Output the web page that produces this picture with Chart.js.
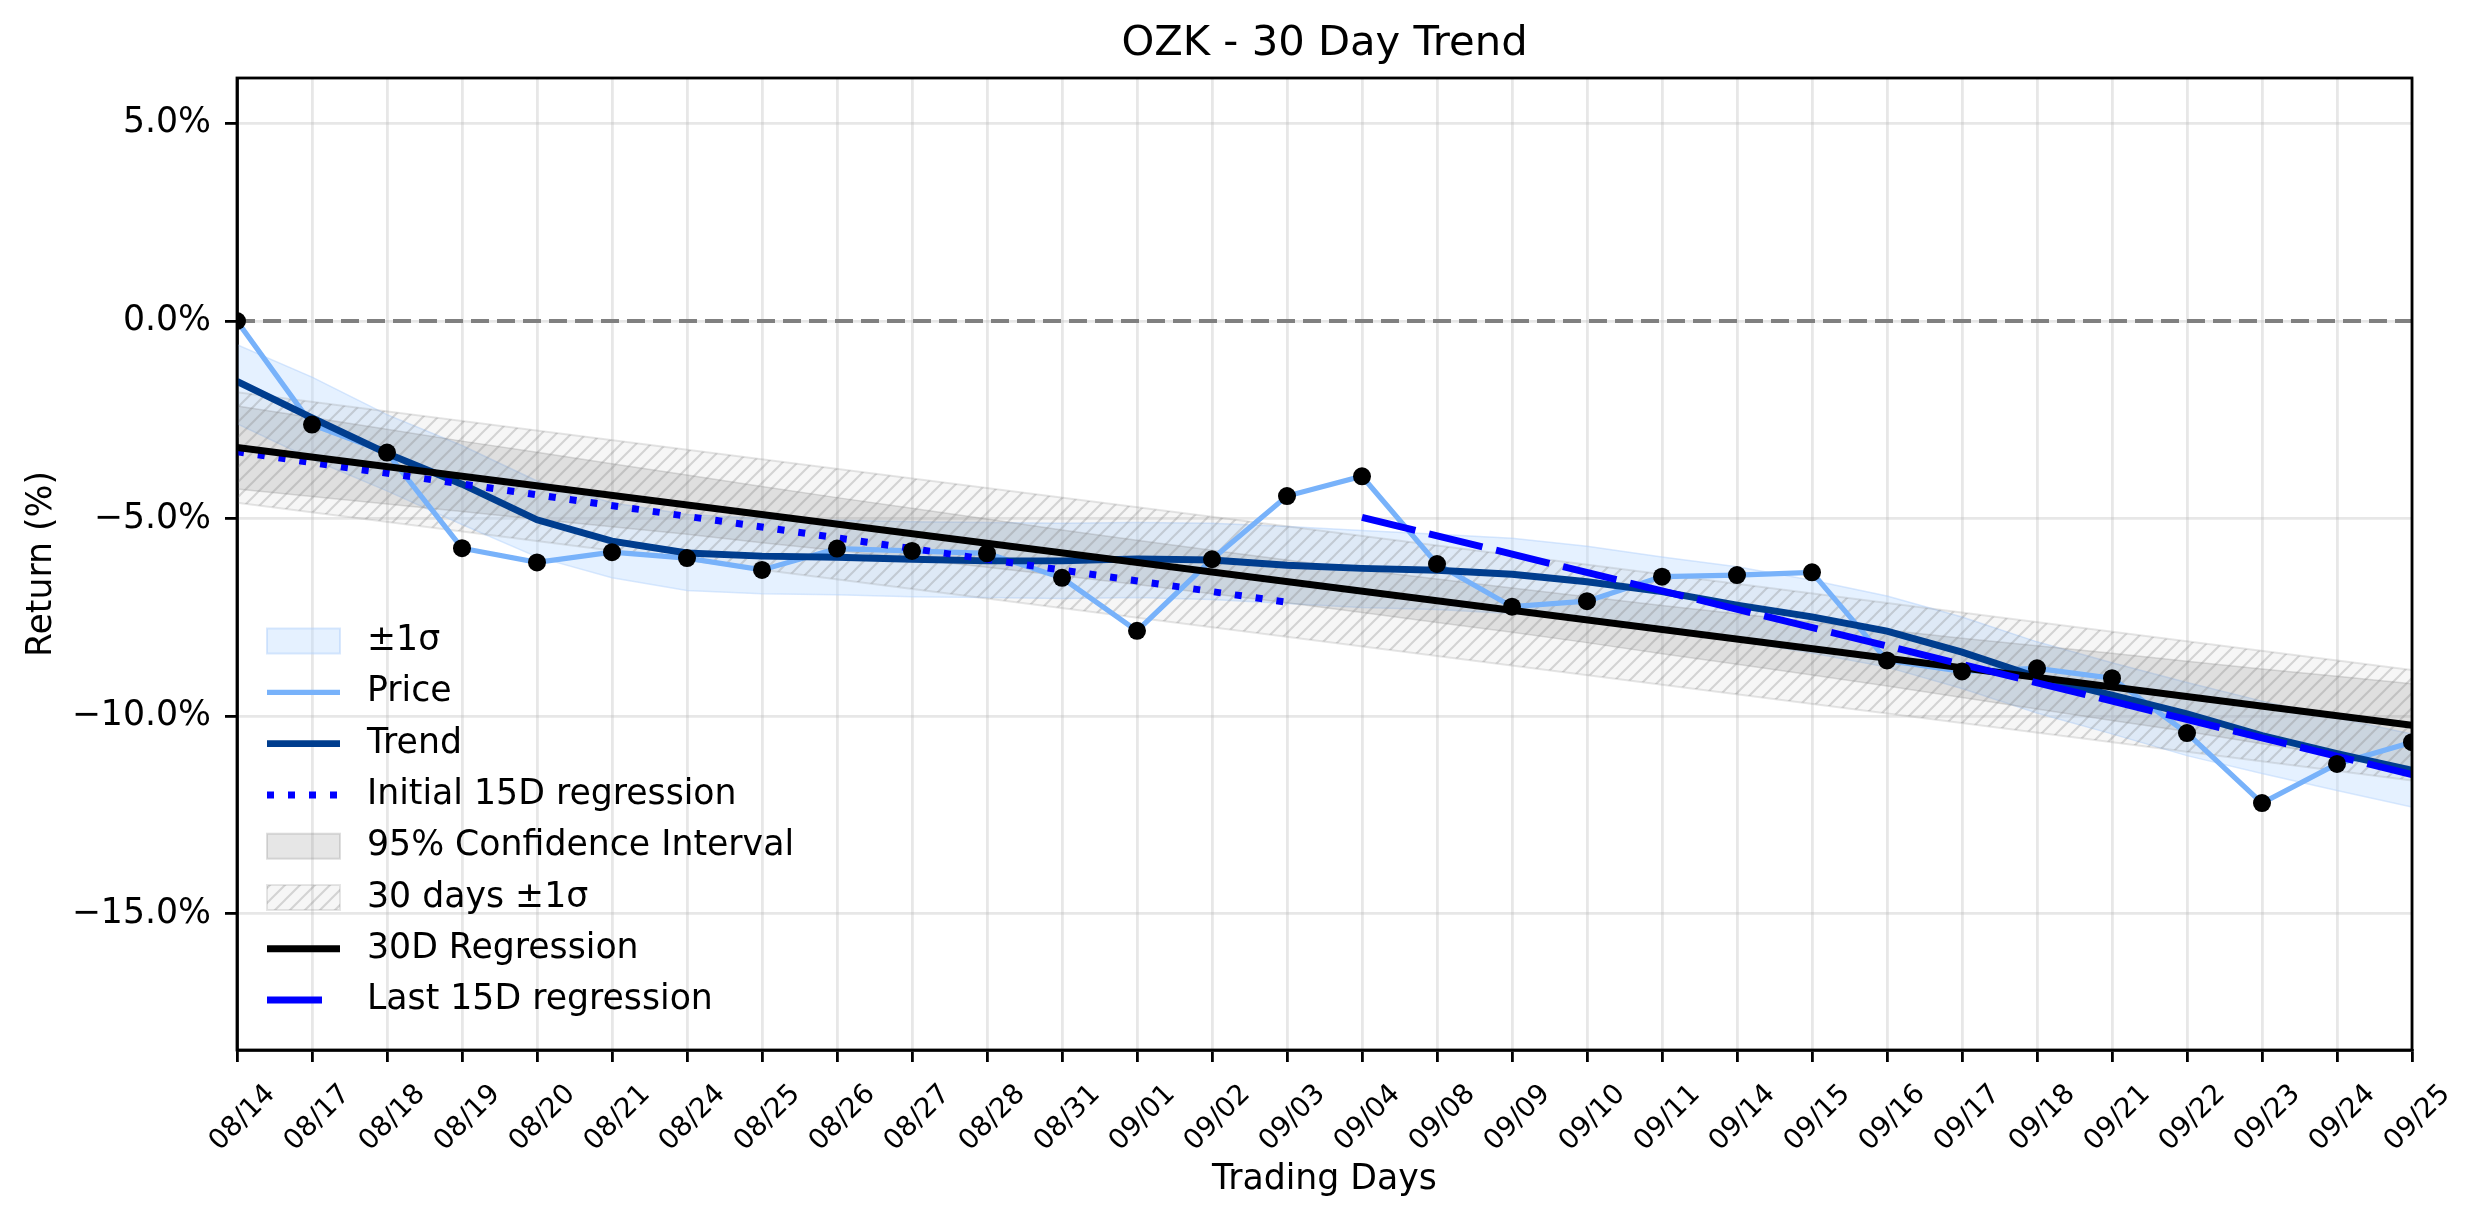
<!DOCTYPE html>
<html>
<head>
<meta charset="utf-8">
<title>OZK - 30 Day Trend</title>
<script src="https://cdn.jsdelivr.net/npm/chart.js@4.4.1/dist/chart.umd.min.js"></script>
<style>
  html, body { margin: 0; padding: 0; background: #fff; }
  #wrap { width: 2474px; height: 1224px; }
</style>
</head>
<body>
<div id="wrap"><canvas id="trendChart" width="2474" height="1224"></canvas></div>
<script>
// trading days on the x axis
const dates = ['08/14', '08/17', '08/18', '08/19', '08/20', '08/21', '08/24', '08/25', '08/26', '08/27',
               '08/28', '08/31', '09/01', '09/02', '09/03', '09/04', '09/08', '09/09', '09/10', '09/11',
               '09/14', '09/15', '09/16', '09/17', '09/18', '09/21', '09/22', '09/23', '09/24', '09/25'];

// return in % per day
const price = [0, -2.62, -3.33, -5.75, -6.11, -5.85, -6.0, -6.3, -5.76, -5.82,
               -5.88, -6.5, -7.84, -6.03, -4.43, -3.93, -6.15, -7.23, -7.09, -6.47,
               -6.43, -6.36, -8.59, -8.87, -8.79, -9.04, -10.43, -12.2, -11.21, -10.66];

const trend = [-1.53, -2.45, -3.35, -4.13, -5.03, -5.57, -5.87, -5.95, -5.98, -6.03,
               -6.07, -6.07, -6.02, -6.05, -6.18, -6.26, -6.31, -6.41, -6.6, -6.85,
               -7.19, -7.49, -7.85, -8.38, -9.01, -9.47, -9.94, -10.49, -10.95, -11.37];

// +-1 sigma band around the trend
const sigmaUpper = [-0.6, -1.42, -2.37, -3.15, -4.05, -4.6, -4.9, -5.0, -5.04, -5.08,
                    -5.1, -5.12, -5.1, -5.12, -5.2, -5.3, -5.4, -5.5, -5.7, -5.97,
                    -6.22, -6.56, -6.96, -7.49, -8.12, -8.65, -9.15, -9.62, -10.05, -10.45];
const sigmaLower = [-2.6, -3.5, -4.3, -5.15, -5.97, -6.5, -6.82, -6.9, -6.93, -6.98,
                    -7.0, -7.02, -7.0, -7.05, -7.15, -7.25, -7.3, -7.4, -7.55, -7.8,
                    -8.1, -8.4, -8.76, -9.3, -9.92, -10.45, -11.0, -11.45, -11.88, -12.3];

// 95% confidence interval of the 30 day regression
const ciUpper = [-2.15, -2.44, -2.74, -3.04, -3.32, -3.61, -3.9, -4.19, -4.47, -4.74,
                 -5.01, -5.29, -5.55, -5.8, -6.05, -6.3, -6.53, -6.76, -6.98, -7.2,
                 -7.41, -7.62, -7.82, -8.03, -8.22, -8.41, -8.61, -8.81, -8.99, -9.18];
const ciLower = [-4.25, -4.44, -4.63, -4.82, -5.02, -5.21, -5.4, -5.61, -5.81, -6.02,
                 -6.23, -6.45, -6.67, -6.9, -7.13, -7.38, -7.63, -7.88, -8.14, -8.42,
                 -8.69, -8.96, -9.24, -9.53, -9.82, -10.11, -10.39, -10.7, -10.99, -11.28];

// straight lines: day index at each end, value at each end
const reg30X = [0, 29];
const reg30 = [-3.2, -10.23];
const band30Upper = [-1.8, -8.83];
const band30Lower = [-4.6, -11.63];
const initX = [0, 14];
const initReg = [-3.31, -7.12];
const lastX = [15, 29];
const lastReg = [-4.97, -11.48];
const zeroLine = [0, 0];

const yTicks = [-15, -10, -5, 0, 5];
const yMin = -18.45;
const yMax = 6.15;

const chartTitle = 'OZK - 30 Day Trend';
const xTitle = 'Trading Days';
const yTitle = 'Return (%)';
const legendRows = ['±1σ', 'Price', 'Trend', 'Initial 15D regression', '95% Confidence Interval',
                    '30 days ±1σ', '30D Regression', 'Last 15D regression'];

const FONT = '"DejaVu Sans", "Liberation Sans", sans-serif';
const dayIdx = dates.map((d, i) => i);
const pts = (xs, ys) => ys.map((y, i) => ({x: xs[i], y: y}));

function makeHatch() {
    const s = 15;
    const c = document.createElement('canvas');
    c.width = s; c.height = s;
    const g = c.getContext('2d');
    g.fillStyle = 'rgba(128,128,128,0.07)';
    g.fillRect(0, 0, s, s);
    g.strokeStyle = 'rgba(128,128,128,0.3)';
    g.lineWidth = 2;
    g.beginPath();
    g.moveTo(0, s); g.lineTo(s, 0);
    g.moveTo(-2, 2); g.lineTo(2, -2);
    g.moveTo(s - 2, s + 2); g.lineTo(s + 2, s - 2);
    g.stroke();
    return g.createPattern(c, 'repeat');
}
const hatch = makeHatch();

const base = {pointRadius: 0, tension: 0, clip: 0, fill: false};

const datasets = [
    Object.assign({}, base, {label: '±1σ', data: pts(dayIdx, sigmaUpper), fill: '+1',
        backgroundColor: 'rgba(190,220,255,0.4)', borderColor: 'rgba(170,205,250,0.45)', borderWidth: 1.5, order: 9}),
    Object.assign({}, base, {label: 'sigma-low', data: pts(dayIdx, sigmaLower),
        borderColor: 'rgba(170,205,250,0.45)', borderWidth: 1.5, order: 9}),
    Object.assign({}, base, {label: '95% Confidence Interval', data: pts(dayIdx, ciUpper), fill: '+1',
        backgroundColor: 'rgba(128,128,128,0.2)', borderColor: 'rgba(128,128,128,0.25)', borderWidth: 1.5, order: 8}),
    Object.assign({}, base, {label: 'ci-low', data: pts(dayIdx, ciLower),
        borderColor: 'rgba(128,128,128,0.25)', borderWidth: 1.5, order: 8}),
    Object.assign({}, base, {label: '30 days ±1σ', data: pts(reg30X, band30Upper), fill: '+1',
        backgroundColor: hatch, borderColor: 'rgba(128,128,128,0.2)', borderWidth: 2, order: 7}),
    Object.assign({}, base, {label: 'band-low', data: pts(reg30X, band30Lower),
        borderColor: 'rgba(128,128,128,0.2)', borderWidth: 2, order: 7}),
    Object.assign({}, base, {label: 'zero', data: pts(reg30X, zeroLine),
        borderColor: '#808080', borderWidth: 4, borderDash: [18, 8], order: 6}),
    Object.assign({}, base, {label: 'Price', data: pts(dayIdx, price),
        borderColor: '#78b2fa', borderWidth: 5.2, order: 5}),
    Object.assign({}, base, {label: 'Trend', data: pts(dayIdx, trend),
        borderColor: '#003d8e', borderWidth: 6.9, order: 4}),
    Object.assign({}, base, {label: 'Initial 15D regression', data: pts(initX, initReg),
        borderColor: '#0000ff', borderWidth: 7, borderDash: [7, 14], order: 3}),
    Object.assign({}, base, {label: '30D Regression', data: pts(reg30X, reg30),
        borderColor: '#000000', borderWidth: 7, order: 2}),
    Object.assign({}, base, {label: 'Last 15D regression', data: pts(lastX, lastReg),
        borderColor: '#0000ff', borderWidth: 7, borderDash: [55, 14], order: 1}),
    Object.assign({}, base, {label: 'dots', data: pts(dayIdx, price), showLine: false,
        pointRadius: 9, pointHoverRadius: 9, pointBackgroundColor: '#000', pointBorderWidth: 0, order: 0})
];

function drawLegend(chart) {
    const {ctx, chartArea: a} = chart;
    const x0 = a.left + 30, x1 = a.left + 103, tx = a.left + 130;
    ctx.save();
    legendRows.forEach((name, k) => {
        const ds = chart.data.datasets.find(d => d.label === name);
        const y = a.bottom - 409 + k * 51.3;
        if (ds.fill) {
            ctx.fillStyle = ds.backgroundColor;
            ctx.fillRect(x0, y - 12.5, x1 - x0, 25);
            ctx.strokeStyle = ds.borderColor;
            ctx.lineWidth = 2;
            ctx.strokeRect(x0, y - 12.5, x1 - x0, 25);
        } else {
            const dash = ds.borderDash || [];
            // a long dash pattern shows a single dash in the handle
            const end = dash.length && dash[0] > 30 ? x0 + dash[0] : x1;
            ctx.beginPath();
            ctx.setLineDash(dash);
            ctx.strokeStyle = ds.borderColor;
            ctx.lineWidth = ds.borderWidth;
            ctx.moveTo(x0, y);
            ctx.lineTo(end, y);
            ctx.stroke();
            ctx.setLineDash([]);
        }
        ctx.fillStyle = '#000';
        ctx.font = '34.7px ' + FONT;
        ctx.textAlign = 'left';
        ctx.textBaseline = 'middle';
        ctx.fillText(name, tx, y);
    });
    ctx.restore();
}

const chromePlugin = {
    id: 'chrome',
    afterDatasetsDraw(chart) {
        drawLegend(chart);
    },
    afterDraw(chart) {
        const {ctx, chartArea: a} = chart;
        const cx = (a.left + a.right) / 2;
        ctx.save();
        ctx.strokeStyle = '#000';
        ctx.lineWidth = 2.8;
        ctx.strokeRect(a.left, a.top, a.right - a.left, a.bottom - a.top);
        ctx.fillStyle = '#000';
        ctx.textAlign = 'center';
        ctx.textBaseline = 'middle';
        ctx.font = '41.7px ' + FONT;
        ctx.fillText(chartTitle, cx, a.top - 34);
        ctx.font = '34.7px ' + FONT;
        ctx.fillText(xTitle, cx, a.bottom + 130);
        ctx.translate(a.left - 195, (a.top + a.bottom) / 2);
        ctx.rotate(-Math.PI / 2);
        ctx.fillText(yTitle, 0, 0);
        ctx.restore();
    }
};

const gridColor = 'rgba(176,176,176,0.3)';

new Chart(document.getElementById('trendChart').getContext('2d'), {
    type: 'line',
    data: {datasets: datasets},
    plugins: [chromePlugin],
    options: {
        responsive: false,
        devicePixelRatio: 1,
        animation: false,
        events: [],
        layout: {padding: {top: 78, right: 62, left: 0, bottom: 0}},
        plugins: {
            legend: {display: false},
            title: {display: false},
            tooltip: {enabled: false}
        },
        scales: {
            x: {
                type: 'linear',
                min: 0,
                max: dates.length - 1,
                afterBuildTicks: s => { s.ticks = dayIdx.map(i => ({value: i})); },
                afterFit: s => { s.height = 174; },
                grid: {color: gridColor, lineWidth: 2.8, tickColor: '#000', tickWidth: 2.8, tickLength: 12},
                border: {display: true, color: '#000', width: 2.8},
                ticks: {
                    autoSkip: false,
                    minRotation: 45,
                    maxRotation: 45,
                    padding: 16,
                    labelOffset: 34,
                    color: '#000',
                    font: {family: FONT, size: 27.8},
                    callback: v => dates[v]
                }
            },
            y: {
                type: 'linear',
                min: yMin,
                max: yMax,
                afterBuildTicks: s => { s.ticks = yTicks.map(v => ({value: v})); },
                afterFit: s => { s.width = 237; },
                grid: {color: gridColor, lineWidth: 2.8, tickColor: '#000', tickWidth: 2.8, tickLength: 12},
                border: {display: true, color: '#000', width: 2.8},
                ticks: {
                    autoSkip: false,
                    padding: 14,
                    color: '#000',
                    font: {family: FONT, size: 34.7},
                    callback: v => (v < 0 ? '\u2212' : '') + Math.abs(v).toFixed(1) + '%'
                }
            }
        }
    }
});
</script>
</body>
</html>
